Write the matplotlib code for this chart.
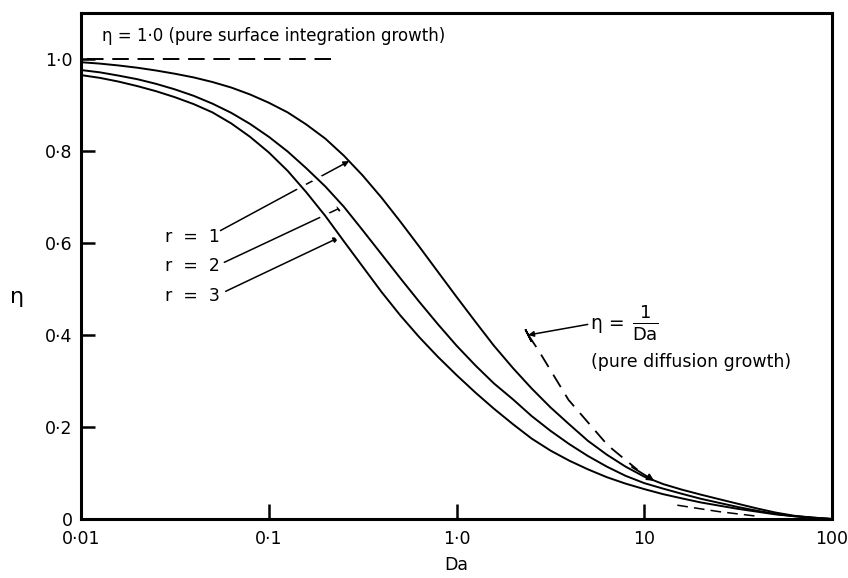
import numpy as np
import matplotlib
matplotlib.use('Agg')
import matplotlib.pyplot as plt

da = [0.01, 0.0126, 0.0158, 0.02, 0.0251, 0.0316, 0.0398, 0.0501, 0.0631, 0.0794,
      0.1, 0.126, 0.158, 0.2, 0.251, 0.316, 0.398, 0.501, 0.631, 0.794,
      1.0, 1.26, 1.58, 2.0, 2.51, 3.16, 3.98, 5.01, 6.31, 7.94,
      10, 12.6, 15.8, 20, 25.1, 31.6, 39.8, 50.1, 63.1, 79.4, 100]

eta_r1 = [0.993, 0.990, 0.986, 0.981, 0.975, 0.968, 0.960, 0.950, 0.938, 0.923,
          0.905, 0.884, 0.858, 0.827, 0.790, 0.747, 0.699, 0.647, 0.593, 0.538,
          0.483, 0.429, 0.377, 0.328, 0.284, 0.243, 0.206, 0.170, 0.140, 0.114,
          0.092, 0.076, 0.064, 0.053, 0.043, 0.033, 0.023, 0.014, 0.007, 0.003, 0.0]

eta_r2 = [0.976, 0.971, 0.964, 0.956, 0.946, 0.934, 0.920, 0.903, 0.883, 0.859,
          0.831, 0.799, 0.763, 0.723, 0.679, 0.628, 0.576, 0.524, 0.473, 0.424,
          0.377, 0.334, 0.295, 0.260, 0.224, 0.192, 0.163, 0.137, 0.114, 0.094,
          0.078, 0.066, 0.055, 0.044, 0.035, 0.026, 0.018, 0.011, 0.006, 0.002, 0.0]

eta_r3 = [0.965, 0.959, 0.951, 0.941, 0.930, 0.917, 0.902, 0.884, 0.860, 0.831,
          0.797, 0.757, 0.711, 0.659, 0.604, 0.549, 0.494, 0.443, 0.396, 0.353,
          0.313, 0.275, 0.240, 0.206, 0.175, 0.149, 0.127, 0.108, 0.091, 0.077,
          0.065, 0.054, 0.045, 0.036, 0.029, 0.022, 0.016, 0.010, 0.006, 0.003, 0.0]

# dashed limits
da_surf = [0.0108, 0.228]
eta_surf = [1.0, 1.0]
da_diff = [2.41, 2.72, 3.95, 6.4, 9.2]
eta_diff = [0.40, 0.368, 0.259, 0.16, 0.107]
da_diff_tail = [15, 25, 40]
eta_diff_tail = [0.03, 0.016, 0.006]

xtick_vals = [0.01, 0.1, 1, 10, 100]
xtick_labels = ['0·01', '0·1', '1·0', '10', '100']
ytick_vals = [0, 0.2, 0.4, 0.6, 0.8, 1.0]
ytick_labels = ['0', '0·2', '0·4', '0·6', '0·8', '1·0']

fig = plt.figure(figsize=(8.48, 5.78), dpi=100)
ax = fig.add_axes([81 / 848, 1 - 519 / 578, (832 - 81) / 848, (519 - 13) / 578])
ax.set_xscale('log')
ax.set_xlim(0.01, 100)
ax.set_ylim(0, 1.10)

lw = 1.4
curves = [eta_r1, eta_r2, eta_r3]
for eta in curves:
    ax.plot(da, eta, color='k', lw=lw, zorder=3)

# white halo on r=2, r=3 so the leader lines look broken where they cross
da_a = np.array(da)
m = (da_a >= 0.1) & (da_a <= 0.4)
for eta in curves[1:]:
    ax.plot(da_a[m], np.array(eta)[m], color='white', lw=7, zorder=2.5, solid_capstyle='butt')

ax.plot(da_surf, eta_surf, color='k', lw=1.4, ls=(0, (8.5, 4.5)), zorder=3)
ax.plot(da_diff, eta_diff, color='k', lw=1.3, ls=(0, (8, 5)), zorder=3)
ax.plot(da_diff_tail, eta_diff_tail, color='k', lw=1.1, ls=(0, (7, 4)), zorder=3)
ax.annotate('', xy=(11.3, 0.083), xytext=(8.6, 0.113),
            arrowprops=dict(arrowstyle='-|>', color='k', lw=1.3, mutation_scale=10,
                            shrinkA=0, shrinkB=0), zorder=3)
ax.plot([da_diff[0]], [eta_diff[0]], marker=(2, 2, 27), ms=10, mew=1.3, color='k', zorder=3)

fs = 12.5
# r labels with leaders
r_labels = ['r  =  1', 'r  =  2', 'r  =  3']
label_pos = [(0.0279, 0.614), (0.0279, 0.549), (0.0279, 0.484)]
leader_start = [(0.0553, 0.627), (0.058, 0.558), (0.059, 0.495)]
leader_end = [(0.268, 0.778), (0.251, 0.680), (0.237, 0.612)]
for lab, pos, s, e in zip(r_labels, label_pos, leader_start, leader_end):
    ax.text(pos[0], pos[1], lab, fontsize=fs, ha='left', va='center')
    ax.annotate('', xy=e, xytext=s,
                arrowprops=dict(arrowstyle='-|>', color='k', lw=1.1, mutation_scale=8,
                                shrinkA=0, shrinkB=0), zorder=2)

ax.text(0.0129, 1.05, 'η = 1·0 (pure surface integration growth)', fontsize=12,
        ha='left', va='center')

ax.annotate('', xy=(2.41, 0.40), xytext=(5.0, 0.423),
            arrowprops=dict(arrowstyle='-|>', color='k', lw=1.1, mutation_scale=8,
                            shrinkA=0, shrinkB=0), zorder=2)
ax.text(5.2, 0.425, 'η =', fontsize=fs + 1, ha='left', va='center')
ax.text(10.1, 0.427, r'$\frac{1}{\mathrm{Da}}$', fontsize=fs + 6, ha='center', va='center')
ax.text(17.7, 0.342, '(pure diffusion growth)', fontsize=fs, ha='center', va='center')

ax.set_xticks(xtick_vals)
ax.set_xticklabels(xtick_labels)
ax.set_yticks(ytick_vals)
ax.set_yticklabels(ytick_labels)
ax.minorticks_off()
ax.tick_params(axis='both', direction='in', width=1.8, labelsize=fs)
ax.tick_params(axis='x', length=11, pad=8)
ax.tick_params(axis='y', length=10, pad=6)
for sp in ax.spines.values():
    sp.set_linewidth(2.2)

ax.set_xlabel('Da', fontsize=fs, labelpad=6)
ax.set_ylabel('η', fontsize=16, rotation=0, va='center')
ax.yaxis.set_label_coords(-0.085, 0.439)

fig.savefig('out.png', dpi=100)
